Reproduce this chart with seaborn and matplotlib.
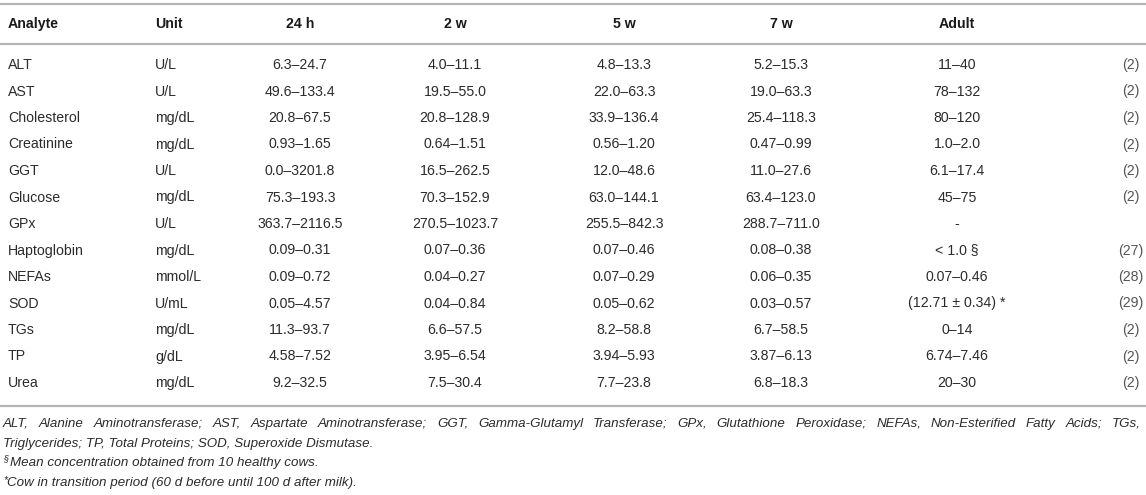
import matplotlib
matplotlib.use("Agg")
import matplotlib.pyplot as plt
import seaborn as sns

sns.set_theme(style="white")
plt.rcParams['font.family'] = ['Liberation Sans', 'DejaVu Sans']

# table content
headers = ["Analyte", "Unit", "24 h", "2 w", "5 w", "7 w", "Adult"]
analytes = ["ALT", "AST", "Cholesterol", "Creatinine", "GGT", "Glucose", "GPx",
            "Haptoglobin", "NEFAs", "SOD", "TGs", "TP", "Urea"]
units = ["U/L", "U/L", "mg/dL", "mg/dL", "U/L", "mg/dL", "U/L",
         "mg/dL", "mmol/L", "U/mL", "mg/dL", "g/dL", "mg/dL"]
h24 = ["6.3–24.7", "49.6–133.4", "20.8–67.5", "0.93–1.65", "0.0–3201.8", "75.3–193.3",
       "363.7–2116.5", "0.09–0.31", "0.09–0.72", "0.05–4.57", "11.3–93.7", "4.58–7.52", "9.2–32.5"]
w2 = ["4.0–11.1", "19.5–55.0", "20.8–128.9", "0.64–1.51", "16.5–262.5", "70.3–152.9",
      "270.5–1023.7", "0.07–0.36", "0.04–0.27", "0.04–0.84", "6.6–57.5", "3.95–6.54", "7.5–30.4"]
w5 = ["4.8–13.3", "22.0–63.3", "33.9–136.4", "0.56–1.20", "12.0–48.6", "63.0–144.1",
      "255.5–842.3", "0.07–0.46", "0.07–0.29", "0.05–0.62", "8.2–58.8", "3.94–5.93", "7.7–23.8"]
w7 = ["5.2–15.3", "19.0–63.3", "25.4–118.3", "0.47–0.99", "11.0–27.6", "63.4–123.0",
      "288.7–711.0", "0.08–0.38", "0.06–0.35", "0.03–0.57", "6.7–58.5", "3.87–6.13", "6.8–18.3"]
adult = ["11–40", "78–132", "80–120", "1.0–2.0", "6.1–17.4", "45–75", "-",
         "< 1.0 §", "0.07–0.46", "(12.71 ± 0.34) *", "0–14", "6.74–7.46", "20–30"]
refs = ["(2)", "(2)", "(2)", "(2)", "(2)", "(2)", "",
        "(27)", "(28)", "(29)", "(2)", "(2)", "(2)"]

foot_line1 = ("ALT, Alanine Aminotransferase; AST, Aspartate Aminotransferase; GGT, Gamma-Glutamyl "
              "Transferase; GPx, Glutathione Peroxidase; NEFAs, Non-Esterified Fatty Acids; TGs,")
foot_line2 = "Triglycerides; TP, Total Proteins; SOD, Superoxide Dismutase."
foot_sect = "Mean concentration obtained from 10 healthy cows."
foot_star = "Cow in transition period (60 d before until 100 d after milk)."

W, H = 1146, 495
fig = plt.figure(figsize=(W / 100, H / 100), dpi=100)
ax = fig.add_axes([0, 0, 1, 1])
ax.set_xlim(0, W)
ax.set_ylim(H, 0)
ax.axis("off")

txt = "#2b2b2b"
rule = "#b5b5b5"
fs = 10.2

# column layout
left_x = [8, 155]
center_x = [300, 455, 624, 781, 957]
ref_x = 1131
y_head = 24
y0, dy = 65, 26.5

# rules
for yy in (4, 44, 406):
    ax.plot([0, W], [yy, yy], color=rule, lw=1.6, solid_capstyle="butt")

# header
for i, h in enumerate(headers):
    if i < 2:
        ax.text(left_x[i], y_head, h, ha="left", va="center", fontsize=fs,
                fontweight="bold", color="#1a1a1a")
    else:
        ax.text(center_x[i - 2], y_head, h, ha="center", va="center", fontsize=fs,
                fontweight="bold", color="#1a1a1a")

# body
cols = [h24, w2, w5, w7, adult]
for r in range(len(analytes)):
    y = y0 + r * dy
    ax.text(left_x[0], y, analytes[r], ha="left", va="center", fontsize=fs, color=txt)
    ax.text(left_x[1], y, units[r], ha="left", va="center", fontsize=fs, color=txt)
    for c, col in enumerate(cols):
        ax.text(center_x[c], y, col[r], ha="center", va="center", fontsize=fs, color=txt)
    ax.text(ref_x, y, refs[r], ha="center", va="center", fontsize=fs, color="#555555")

# footnotes
ffs = 9.6
fig.canvas.draw()
renderer = fig.canvas.get_renderer()


def justify(line, y, x0, x1):
    words = line.split(" ")
    widths = []
    for w in words:
        t = ax.text(0, 0, w, fontsize=ffs, style="italic")
        bb = t.get_window_extent(renderer=renderer)
        widths.append(bb.width)
        t.remove()
    gap = (x1 - x0 - sum(widths)) / (len(words) - 1)
    x = x0
    for w, wd in zip(words, widths):
        ax.text(x, y, w, ha="left", va="center", fontsize=ffs, style="italic", color=txt)
        x += wd + gap


justify(foot_line1, 424, 3, 1141)
ax.text(3, 444, foot_line2, ha="left", va="center", fontsize=ffs, style="italic", color=txt)
ax.text(3, 459, "§", ha="left", va="center", fontsize=6.5, style="italic", color=txt)
ax.text(10, 463, foot_sect, ha="left", va="center", fontsize=ffs, style="italic", color=txt)
ax.text(3, 480, "*", ha="left", va="center", fontsize=7.5, style="italic", color=txt)
ax.text(7, 483, foot_star, ha="left", va="center", fontsize=ffs, style="italic", color=txt)

fig.savefig("out.png", dpi=100)
